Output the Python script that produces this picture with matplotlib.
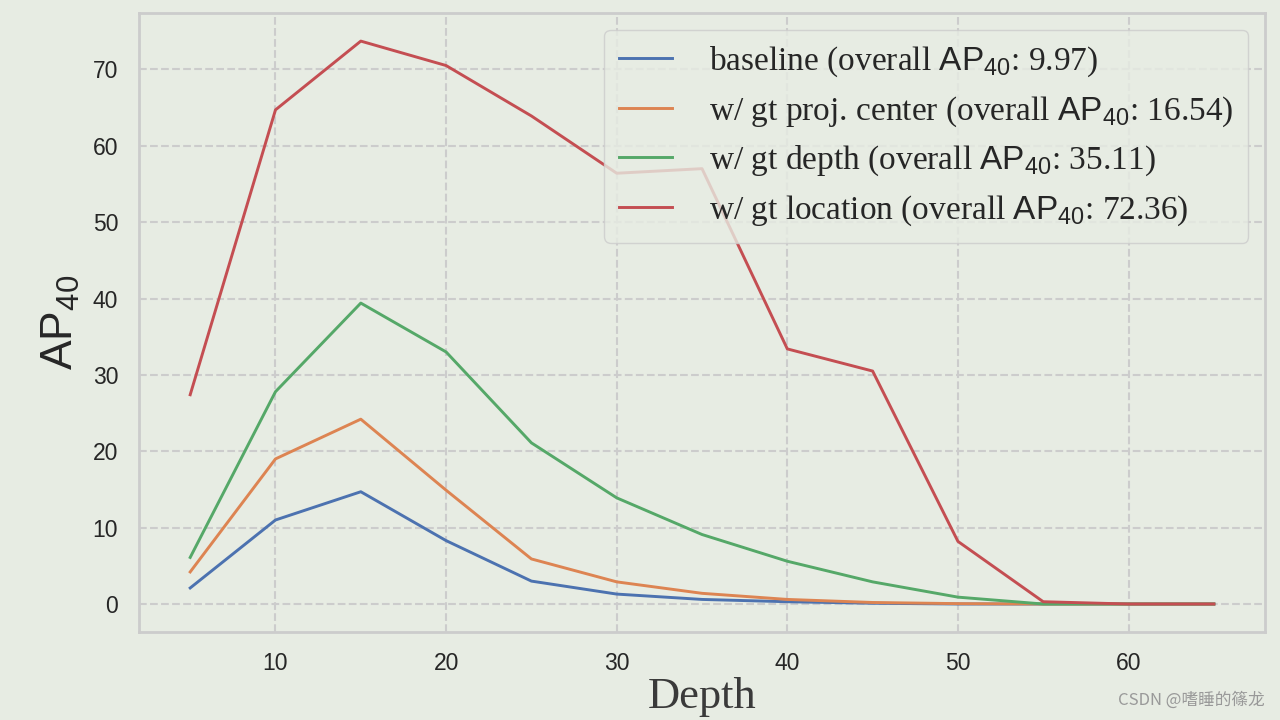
import matplotlib
matplotlib.use("Agg")
import matplotlib.pyplot as plt

# values
depth = [5, 10, 15, 20, 25, 30, 35, 40, 45, 50, 55, 60, 65]
baseline = [2.1, 11.0, 14.7, 8.3, 3.0, 1.3, 0.6, 0.3, 0.1, 0.0, 0.0, 0.0, 0.0]
gt_center = [4.2, 19.0, 24.2, 14.9, 5.9, 2.9, 1.4, 0.6, 0.2, 0.05, 0.0, 0.0, 0.0]
gt_depth = [6.1, 27.8, 39.4, 33.0, 21.1, 13.9, 9.1, 5.6, 2.9, 0.9, 0.0, 0.0, 0.0]
gt_location = [27.4, 64.7, 73.7, 70.5, 63.9, 56.4, 57.0, 33.4, 30.5, 8.2, 0.3, 0.0, 0.0]

labels = ["baseline (overall $\\mathrm{AP}_{40}$: 9.97)",
          "w/ gt proj. center (overall $\\mathrm{AP}_{40}$: 16.54)",
          "w/ gt depth (overall $\\mathrm{AP}_{40}$: 35.11)",
          "w/ gt location (overall $\\mathrm{AP}_{40}$: 72.36)"]
colors = ["#4C72B0", "#DD8452", "#55A868", "#C44E52"]

bg = "#E7ECE3"
plt.rcParams['mathtext.fontset'] = 'custom'
plt.rcParams['mathtext.rm'] = 'Liberation Sans'
plt.rcParams['mathtext.it'] = 'Liberation Sans:italic'

fig = plt.figure(figsize=(12.8, 7.2), dpi=100, facecolor=bg)
ax = fig.add_axes([0.1086, 0.122, 0.8797, 0.86])
ax.set_facecolor(bg)

for ys, lab, c in zip([baseline, gt_center, gt_depth, gt_location], labels, colors):
    ax.plot(depth, ys, color=c, lw=2.1, label=lab)

ax.grid(True, linestyle='--', color='#cccccc', lw=1.5)
ax.set_axisbelow(True)
for s in ax.spines.values():
    s.set_color('#cccccc')
    s.set_linewidth(2)

ax.set_xticks([10, 20, 30, 40, 50, 60])
ax.set_yticks(range(0, 80, 10))
ax.tick_params(length=0, labelsize=16.5, labelcolor='#262626')
ax.tick_params(axis='x', pad=14)
ax.tick_params(axis='y', pad=15)
for t in ax.get_xticklabels() + ax.get_yticklabels():
    t.set_family('Liberation Sans')

ax.set_xlabel("Depth", fontsize=32, family='Liberation Serif', color='#3a3a3a', labelpad=2)
ax.set_ylabel("$\\mathrm{AP}_{40}$", fontsize=32, color='#262626', labelpad=8)

leg = ax.legend(loc='upper right', prop={'family': 'Liberation Serif', 'size': 24},
                frameon=True, facecolor=bg, edgecolor='#cccccc', framealpha=0.8,
                handlelength=1.6, handletextpad=1.1, borderaxespad=0.5,
                labelspacing=0.45, borderpad=0.45)
for t in leg.get_texts():
    t.set_color('#262626')

fig.text(0.988, 0.015, "CSDN @嗜睡的篠龙", ha='right', va='bottom', fontsize=12,
         color='#999999', family=['Noto Sans CJK SC', 'DejaVu Sans'])

fig.savefig("out.png", dpi=100, facecolor=bg)
